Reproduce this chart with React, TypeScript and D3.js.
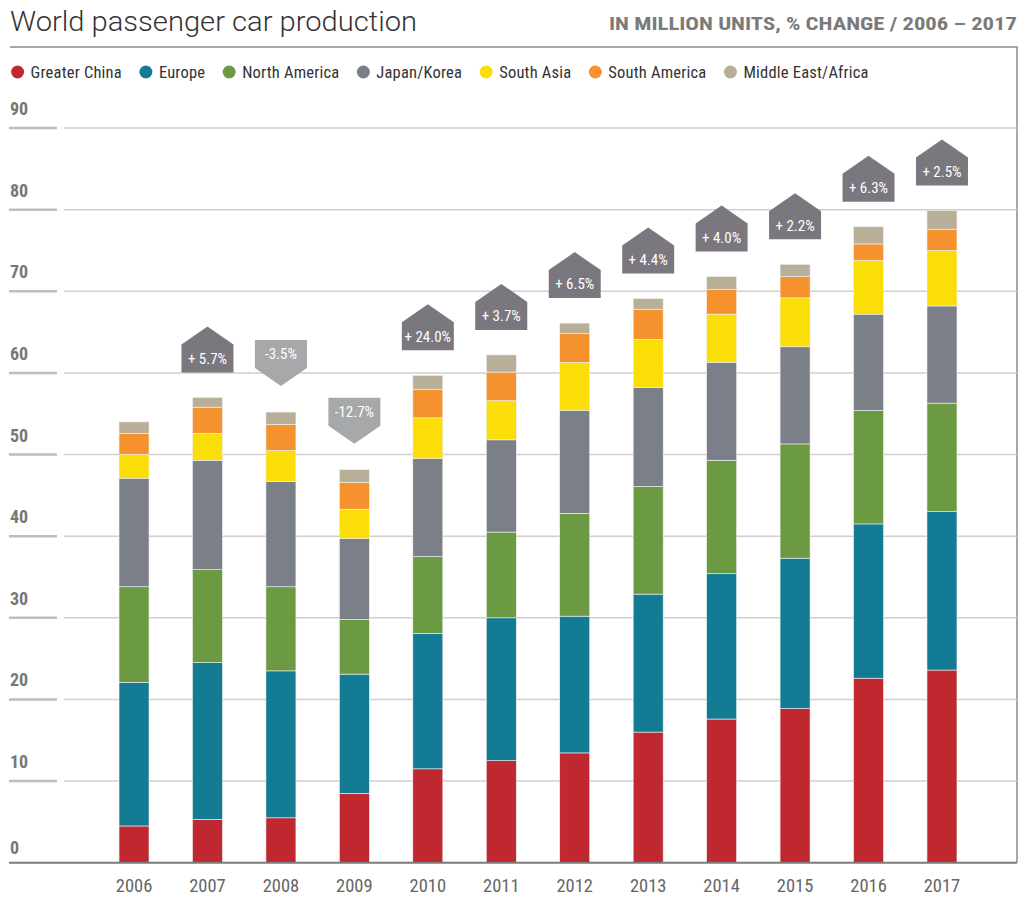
import React, { useRef, useEffect } from 'react';
import * as d3 from 'd3';

const years = ['2006', '2007', '2008', '2009', '2010', '2011', '2012', '2013', '2014', '2015', '2016', '2017'];

const regions = ['Greater China', 'Europe', 'North America', 'Japan/Korea', 'South Asia', 'South America', 'Middle East/Africa'];

const regionColors = ['#c0282f', '#137b94', '#6b9a42', '#7a7f88', '#fbdd07', '#f5922e', '#b9ae98'];

// million units per region, in stacking order (bottom to top)
const greaterChina = [4.5, 5.3, 5.5, 8.5, 11.5, 12.5, 13.45, 16.0, 17.6, 18.9, 22.6, 23.6];
const europe = [17.6, 19.2, 18.0, 14.6, 16.6, 17.5, 16.75, 16.9, 17.8, 18.4, 18.9, 19.4];
const northAmerica = [11.7, 11.4, 10.3, 6.7, 9.4, 10.5, 12.6, 13.2, 13.9, 14.0, 13.9, 13.3];
const japanKorea = [13.3, 13.4, 12.9, 9.9, 12.0, 11.3, 12.6, 12.1, 12.0, 11.9, 11.8, 11.9];
const southAsia = [2.9, 3.3, 3.8, 3.6, 5.0, 4.8, 5.9, 5.9, 5.9, 6.0, 6.6, 6.8];
const southAmerica = [2.6, 3.2, 3.2, 3.3, 3.5, 3.5, 3.5, 3.7, 3.0, 2.6, 2.0, 2.6];
const middleEastAfrica = [1.4, 1.2, 1.5, 1.55, 1.7, 2.1, 1.3, 1.3, 1.6, 1.5, 2.1, 2.3];

const seriesValues = [greaterChina, europe, northAmerica, japanKorea, southAsia, southAmerica, middleEastAfrica];

// year-on-year % change (none for the first year)
const changes = [null, 5.7, -3.5, -12.7, 24.0, 3.7, 6.5, 4.4, 4.0, 2.2, 6.3, 2.5];

const yTicks = [0, 10, 20, 30, 40, 50, 60, 70, 80, 90];

const NARROW = "'Roboto Condensed', 'Liberation Sans Narrow', 'Arial Narrow', Roboto, sans-serif";

const W = 1022;
const H = 897;

const App: React.FC = () => {
  const svgRef = useRef<SVGSVGElement>(null);

  useEffect(() => {
    if (!svgRef.current) return;
    document.body.style.margin = '0';

    const svg = d3.select(svgRef.current);
    svg.selectAll('*').remove();
    svg.attr('width', W).attr('height', H);

    const left = 9;
    const right = 1017;
    const top = 47;

    const y = d3.scaleLinear().domain([0, 90]).range([862.7, 128]);
    const x = d3.scalePoint<string>().domain(years).range([97.3, 978.7]).padding(0.5);
    const barW = 30;

    // title
    svg
      .append('text')
      .attr('x', 10)
      .attr('y', 31)
      .attr('fill', '#333')
      .style('font-family', 'Roboto, sans-serif')
      .style('font-weight', 300)
      .style('font-size', '27px')
      .attr('textLength', 407)
      .attr('lengthAdjust', 'spacingAndGlyphs')
      .text('World passenger car production');

    svg
      .append('text')
      .attr('x', 1017)
      .attr('y', 30)
      .attr('text-anchor', 'end')
      .attr('fill', '#7a7a7a')
      .style('font-family', NARROW)
      .style('font-weight', 700)
      .style('font-size', '18px')
      .attr('textLength', 408)
      .attr('lengthAdjust', 'spacingAndGlyphs')
      .text('IN MILLION UNITS, % CHANGE  / 2006 – 2017');

    // frame
    svg
      .append('path')
      .attr('d', `M${left + 1},${top}H${right}V${y(0)}`)
      .attr('fill', 'none')
      .attr('stroke', '#8a8a8a')
      .attr('stroke-width', 1.5);

    // legend
    const legend = svg.append('g').attr('transform', 'translate(0,72)');
    let lx = 17.6;
    regions.forEach((name, i) => {
      legend.append('circle').attr('cx', lx).attr('cy', 0).attr('r', 6.5).attr('fill', regionColors[i]);
      const t = legend
        .append('text')
        .attr('x', lx + 13)
        .attr('y', 5.5)
        .attr('fill', '#333')
        .style('font-family', NARROW)
        .style('font-size', '16.5px')
        .style('letter-spacing', '0.2px')
        .text(name);
      const w = (t.node() as SVGTextElement).getComputedTextLength();
      lx = lx + 13 + w + 24;
    });

    // grid + y axis
    const grid = svg.append('g');
    yTicks.forEach((v) => {
      if (v === 0) return;
      grid
        .append('line')
        .attr('x1', left)
        .attr('x2', 57)
        .attr('y1', y(v))
        .attr('y2', y(v))
        .attr('stroke', '#bdbdbd')
        .attr('stroke-width', 2.5);
      grid
        .append('line')
        .attr('x1', 64)
        .attr('x2', right)
        .attr('y1', y(v))
        .attr('y2', y(v))
        .attr('stroke', '#cfcfcf')
        .attr('stroke-width', 1.5);
    });
    grid
      .selectAll('text')
      .data(yTicks)
      .enter()
      .append('text')
      .attr('x', 10)
      .attr('y', (d) => y(d) - (d === 0 ? 9 : 13))
      .attr('fill', '#777')
      .style('font-family', NARROW)
      .style('font-weight', 700)
      .style('font-size', '18px')
      .text((d) => d);

    // stacked bars
    const table = years.map((yr, i) => {
      const row: Record<string, number | string> = { year: yr };
      regions.forEach((r, j) => (row[r] = seriesValues[j][i]));
      return row;
    });
    const stacked = d3.stack<Record<string, number | string>>().keys(regions)(table as any);

    svg
      .append('g')
      .selectAll('g')
      .data(stacked)
      .enter()
      .append('g')
      .attr('fill', (_, i) => regionColors[i])
      .selectAll('rect')
      .data((d) => d)
      .enter()
      .append('rect')
      .attr('x', (d) => (x(d.data.year as string) as number) - barW / 2)
      .attr('width', barW)
      .attr('y', (d) => y(d[1]))
      .attr('height', (d) => y(d[0]) - y(d[1]))
      .attr('stroke', '#f2f2f2')
      .attr('stroke-width', 0.6);

    // baseline
    svg
      .append('line')
      .attr('x1', left)
      .attr('x2', right)
      .attr('y1', y(0))
      .attr('y2', y(0))
      .attr('stroke', '#7a7a7a')
      .attr('stroke-width', 2);

    // year labels
    svg
      .append('g')
      .selectAll('text')
      .data(years)
      .enter()
      .append('text')
      .attr('x', (d) => x(d) as number)
      .attr('y', 892)
      .attr('text-anchor', 'middle')
      .attr('fill', '#666')
      .style('font-family', NARROW)
      .style('font-size', '18.5px')
      .text((d) => d);

    // change badges
    const totals = years.map((_, i) => d3.sum(seriesValues, (s) => s[i]));
    const hw = 26;
    const rectH = 28;
    const triH = 18;
    const badges = svg.append('g');
    changes.forEach((c, i) => {
      if (c === null) return;
      const cx = x(years[i]) as number;
      const barTop = y(totals[i]);
      let d: string;
      let textY: number;
      if (c >= 0) {
        const bottom = barTop - 25;
        const rTop = bottom - rectH;
        d = `M${cx - hw},${rTop}L${cx},${rTop - triH}L${cx + hw},${rTop}V${bottom}H${cx - hw}Z`;
        textY = rTop + rectH / 2;
      } else {
        const tip = barTop - 26;
        const rBot = tip - triH;
        const rTop = rBot - rectH;
        d = `M${cx - hw},${rTop}H${cx + hw}V${rBot}L${cx},${tip}L${cx - hw},${rBot}Z`;
        textY = rTop + rectH / 2;
      }
      badges
        .append('path')
        .attr('d', d)
        .attr('fill', c >= 0 ? '#7b777e' : '#a7a8aa');
      badges
        .append('text')
        .attr('x', cx)
        .attr('y', textY)
        .attr('dy', '0.35em')
        .attr('text-anchor', 'middle')
        .attr('fill', '#fff')
        .style('font-family', NARROW)
        .style('font-size', '15px')
        .text(c >= 0 ? `+ ${c.toFixed(1)}%` : `${c.toFixed(1)}%`);
    });
  }, []);

  return <svg ref={svgRef} style={{ display: 'block', background: '#fff' }} />;
};

export default App;
